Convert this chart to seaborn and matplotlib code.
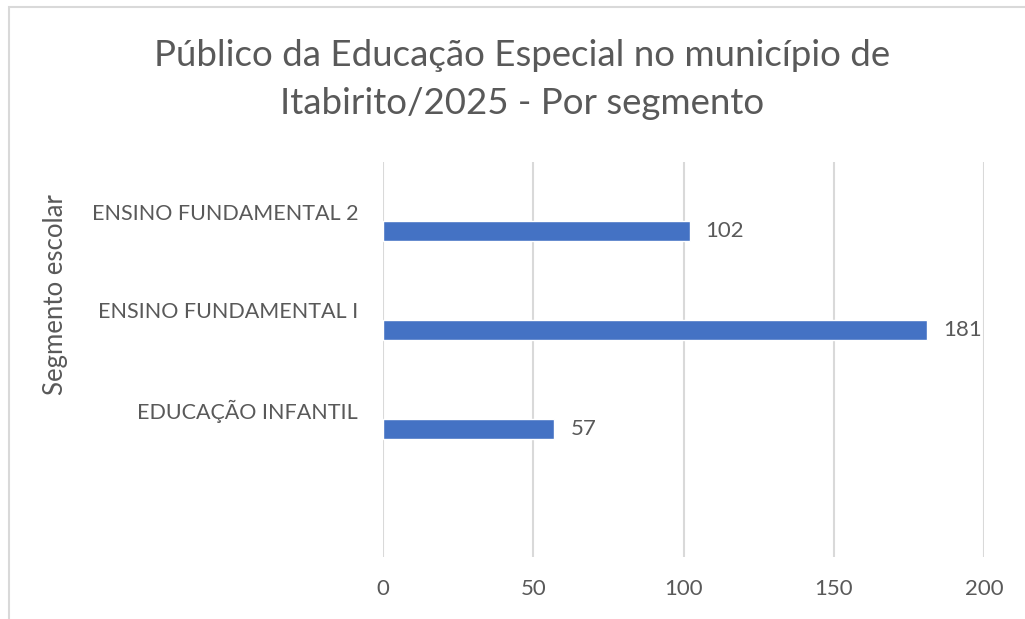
import numpy as np
import pandas as pd
import matplotlib
matplotlib.use('Agg')
import matplotlib.pyplot as plt
import seaborn as sns

# dados do gráfico (ordem de cima para baixo)
segmentos = ['ENSINO FUNDAMENTAL 2', 'ENSINO FUNDAMENTAL I', 'EDUCAÇÃO INFANTIL']
alunos = [102, 181, 57]
x_ticks = [0, 50, 100, 150, 200]

titulo = 'Público da Educação Especial no município de\nItabirito/2025 - Por segmento'
rotulo_y = 'Segmento escolar'

sns.set_theme(style='white')
plt.rcParams['font.family'] = ['Lato', 'DejaVu Sans']
cinza = '#595959'
azul = '#4472C4'

fig = plt.figure(figsize=(10.25, 6.19), dpi=100)
ax = fig.add_axes([0.3737, 0.100, 0.5865, 0.638])

# barras deslocadas abaixo do rótulo da categoria (como no Excel)
df = pd.DataFrame({'segmento': segmentos, 'alunos': alunos})
df['pos'] = np.arange(len(segmentos)) + 0.2
sns.barplot(data=df, x='alunos', y='pos', orient='h', native_scale=True,
            width=0.2, color=azul, saturation=1, ax=ax)

for v, p in zip(df['alunos'], df['pos']):
    ax.text(v + 5.3, p, str(v), va='center', ha='left', fontsize=16, color=cinza)

ax.set_xlim(0, 200)
ax.set_ylim(3.5, -0.5)
ax.set_xticks(x_ticks)
ax.set_xticklabels([str(t) for t in x_ticks])
ax.set_yticks(np.arange(len(segmentos)))
ax.set_yticklabels(segmentos)
ax.tick_params(axis='y', length=0, pad=18, labelsize=15.5, labelcolor=cinza)
ax.tick_params(axis='x', length=0, pad=16, labelsize=16, labelcolor=cinza)
ax.grid(axis='x', color='#D9D9D9', linewidth=1.5)
ax.grid(axis='y', visible=False)
ax.set_axisbelow(True)
for s in ax.spines.values():
    s.set_visible(False)

ax.set_xlabel('')
ax.set_ylabel(rotulo_y, fontsize=18.5, color=cinza)
ax.yaxis.set_label_coords(-0.524, 0.666)

fig.text(0.509, 0.871, titulo, ha='center', va='center', fontsize=26.4,
         color=cinza, linespacing=1.55)

# moldura do gráfico
fig.patches.append(plt.Rectangle((9 / 1025, -0.05), 1.1, 1 - 7 / 619 + 0.05,
                                 transform=fig.transFigure, fill=False,
                                 edgecolor='#D9D9D9', linewidth=1.5))

fig.savefig('out.png', dpi=100, facecolor='white')
